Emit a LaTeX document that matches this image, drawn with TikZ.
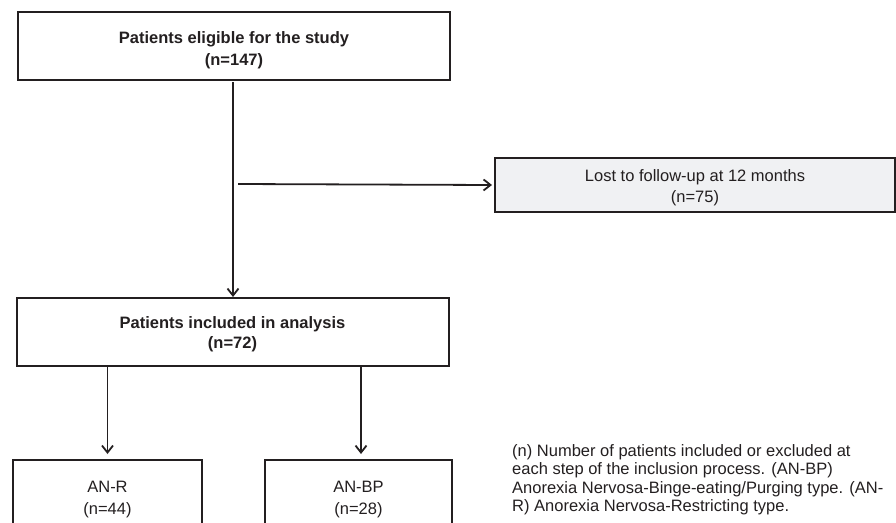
\documentclass[tikz,border=0pt]{standalone}
\usepackage{fontspec}
\setmainfont{Liberation Sans}
\usetikzlibrary{arrows.meta}
\definecolor{ink}{RGB}{35,31,32}
\definecolor{lostfill}{RGB}{240,241,243}
\begin{document}
\begin{tikzpicture}[x=1pt,y=-1pt,
  box/.style={draw=ink, line width=2pt, fill=white, inner sep=0pt},
  txt/.style={align=center, inner sep=0pt, text=ink},
  conn/.style={draw=ink, line width=1.8pt, -{Straight Barb[length=7pt,width=11pt,line width=1.8pt]}},
  plain/.style={draw=ink, line width=1.8pt}]
\useasboundingbox (0,0) rectangle (896,522);
\clip (0,0) rectangle (896,522);
% boxes
\node[box, minimum width=432, minimum height=68] (elig) at (234,45.5) {};
\node[txt, font=\bfseries\fontsize{16.5}{22}\selectfont] (eligt) at ([yshift=-4.5pt]elig.center) {Patients eligible for the study\\(n=147)};
\node[box, fill=lostfill, minimum width=400, minimum height=54] (lost) at (695,185) {};
\node[txt, font=\fontsize{16.5}{21}\selectfont] (lostt) at ([yshift=-3pt]lost.center) {Lost to follow-up at 12 months\\(n=75)};
\node[box, minimum width=432, minimum height=68] (incl) at (232.5,332) {};
\node[txt, font=\bfseries\fontsize{16.5}{20}\selectfont] (inclt) at ([yshift=-2.5pt]incl.center) {Patients included in analysis\\(n=72)};
\node[box, minimum width=189, minimum height=72] (anr) at (107.5,496) {};
\node[txt, font=\fontsize{16.5}{22}\selectfont] (anrt) at ([yshift=-3.5pt]anr.center) {AN-R\\(n=44)};
\node[box, minimum width=187, minimum height=72] (anbp) at (358.5,496) {};
\node[txt, font=\fontsize{16.5}{22}\selectfont] (anbpt) at ([yshift=-3.5pt]anbp.center) {AN-BP\\(n=28)};
% note
\node[anchor=north west, align=left, inner sep=0pt, text=ink, font=\fontsize{16.5}{18.5}\selectfont] (note) at (512,444) {(n) Number of patients included or excluded at\\each step of the inclusion process. (AN-BP)\\Anorexia Nervosa-Binge-eating/Purging type. (AN-\\R) Anorexia Nervosa-Restricting type.};
% connectors
\coordinate (trunk) at (233,82);
\coordinate (branch) at (238,184);
\draw[plain] (trunk) -- (trunk |- branch);
\draw[conn] (trunk |- branch) -- (trunk |- incl.north);
\draw[conn] (branch) -- ([xshift=-2pt]lost.west);
\draw[conn, shorten >=5pt] (incl.south -| anr.north) -- (anr.north);
\draw[conn, shorten >=5pt] ([xshift=2.5pt]incl.south -| anbp.north) -- ([xshift=2.5pt]anbp.north);
\end{tikzpicture}
\end{document}
